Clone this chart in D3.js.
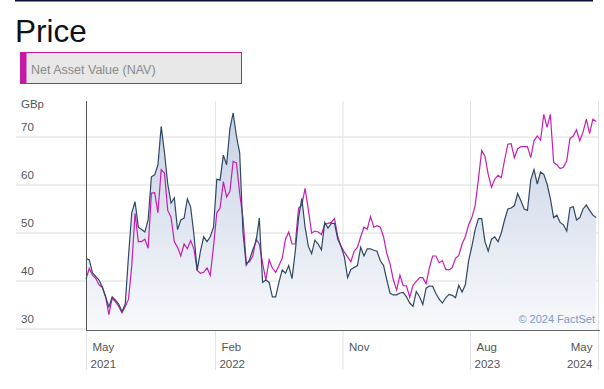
<!DOCTYPE html>
<html><head><meta charset="utf-8">
<script src="https://cdn.jsdelivr.net/npm/d3@7"></script>
<style>
html,body{margin:0;padding:0;background:#fff;}
svg{display:block;font-family:"Liberation Sans",Arial,Helvetica,sans-serif;}
</style></head>
<body><svg id="chart" width="604" height="389"></svg>
<script>
// ---- data (weekly, starting 2021-05-01) ----
const startDate = "2021-05-01";
const priceValues = [44.5,44.2,41.5,40.7,40.0,38.5,36.5,34.4,36.5,35.8,35.0,33.4,35.0,45.0,54.0,56.3,51.0,50.5,50.0,52.5,
61.5,61.9,64.0,72.0,66.5,60.0,56.0,57.1,50.5,52.5,52.9,56.9,55.2,49.5,42.0,46.0,49.0,48.0,49.0,51.0,
61.0,60.8,66.0,64.0,71.5,74.8,70.0,66.5,50.0,43.1,44.2,46.3,48.0,52.9,39.5,40.0,39.5,36.5,36.5,39.5,
42.1,41.4,43.0,40.3,46.0,53.0,57.0,51.0,47.0,45.5,48.3,47.5,46.3,52.0,50.8,51.8,51.8,48.5,47.0,44.8,
40.5,42.2,42.6,43.0,46.8,45.0,46.5,46.5,46.2,46.0,44.0,43.0,40.0,37.2,36.9,36.9,37.3,37.4,36.5,35.2,
34.5,37.6,36.5,34.9,38.3,38.75,38.7,37.2,36.0,35.2,36.3,37.0,36.8,36.3,38.9,37.5,39.0,44.0,47.0,50.5,
52.8,52.8,48.0,46.0,48.5,49.0,48.0,49.8,52.5,54.8,55.0,55.5,58.0,56.5,54.8,54.5,60.8,63.0,60.0,62.5,
62.0,60.0,57.0,53.0,53.5,52.0,51.5,50.2,55.0,55.3,52.5,53.0,54.8,55.6,54.5,53.5,53.0];
const navValues = [40.2,42.4,41.0,40.3,39.0,38.5,36.5,32.8,36.2,35.5,34.5,33.2,34.5,36.0,43.0,53.9,48.0,48.0,48.5,46.6,
58.1,58.2,54.0,63.0,62.3,54.5,53.1,48.0,46.8,45.0,47.5,46.5,48.2,46.5,42.0,41.4,41.6,42.5,41.0,47.0,
54.0,55.0,60.5,57.3,58.5,64.7,64.4,58.0,53.0,43.5,43.8,45.0,48.5,47.5,43.5,40.0,44.2,42.5,41.6,43.0,
44.5,48.5,50.0,47.5,47.5,55.0,55.6,59.1,54.6,49.8,50.2,50.0,49.5,51.6,51.8,52.0,52.8,49.0,47.0,45.8,
44.8,43.8,46.0,46.8,49.0,51.0,50.6,53.2,51.0,51.3,51.0,49.0,45.5,43.3,40.0,37.9,41.0,38.8,38.8,36.4,
38.9,39.7,40.5,40.5,39.2,42.5,45.0,45.0,43.6,44.0,42.2,42.1,42.6,44.5,45.1,47.5,49.0,51.5,53.0,55.5,
61.0,67.0,65.8,62.0,59.3,61.0,61.8,61.3,65.0,68.3,68.4,65.5,67.3,67.8,67.8,67.8,65.5,69.0,70.0,69.1,
74.5,71.8,74.5,64.5,64.0,63.2,63.5,64.8,69.5,70.0,71.3,69.0,70.8,73.5,70.5,73.5,73.0];
const yTicks = [30,40,50,60,70];
const xTickDates = ["2021-05-01","2022-02-01","2022-11-01","2023-08-01","2024-05-01"];
const xTickMonths = ["May","Feb","Nov","Aug","May"];
const xTickYears = ["2021","2022","","2023","2024"];
const titleText = "Price";
const legendText = "Net Asset Value (NAV)";
const unitText = "GBp";
const creditText = "\u00A9 2024 FactSet";

// ---- build ----
const parse = d3.utcParse("%Y-%m-%d");
const t0 = parse(startDate);
const dates = priceValues.map((_, i) => d3.utcDay.offset(t0, i * 7));
const price = priceValues.map((v, i) => ({d: dates[i], v}));
const nav = navValues.map((v, i) => ({d: dates[i], v}));

const svg = d3.select("#chart");
const L = 86, R = 598, T = 101, B = 330;

const x = d3.scaleUtc().domain([parse(xTickDates[0]), parse(xTickDates[4])]).range([L, R]);
const y = d3.scaleLinear().domain([30, 70]).range([328, 136]);

// top rule
svg.append("rect").attr("x", 15).attr("y", 0).attr("width", 578).attr("height", 1.5).attr("fill", "#0b0f3a");

// title
svg.append("text").attr("x", 15).attr("y", 42).attr("font-size", 31.5).attr("fill", "#111").text(titleText);

// legend
svg.append("rect").attr("x", 20.5).attr("y", 52.5).attr("width", 221).attr("height", 31)
  .attr("fill", "#e8e8e8").attr("stroke", "#c419a8").attr("stroke-width", 1);
svg.append("rect").attr("x", 20).attr("y", 52).attr("width", 6.5).attr("height", 32).attr("fill", "#c419a8");
svg.append("text").attr("x", 31).attr("y", 74).attr("font-size", 12.5).attr("fill", "#8a8a8a").text(legendText);

// gradient
const defs = svg.append("defs");
const grad = defs.append("linearGradient").attr("id", "areaGrad")
  .attr("gradientUnits", "userSpaceOnUse").attr("x1", 0).attr("x2", 0).attr("y1", T).attr("y2", B);
grad.append("stop").attr("offset", "0%").attr("stop-color", "#c4d0e3");
grad.append("stop").attr("offset", "100%").attr("stop-color", "#f8f9fc");

// horizontal grid + y labels
const yAxis = d3.axisLeft(y).tickValues(yTicks).tickSize(-(R - 16)).tickFormat(d3.format("d"));
const gy = svg.append("g").attr("transform", `translate(16,0)`).call(yAxis);
gy.select(".domain").remove();
gy.selectAll(".tick line").attr("stroke", "#dcdcdc").attr("transform", "translate(0,0.5)");
gy.selectAll(".tick text").attr("x", 5).attr("dy", "-0.45em").attr("text-anchor", "start")
  .attr("font-size", 11.5).attr("fill", "#555").attr("font-family", "Liberation Sans, Arial, sans-serif");
svg.append("text").attr("x", 21).attr("y", 108).attr("font-size", 11.5).attr("fill", "#555").text(unitText);

// vertical grid + x labels
const xAxis = d3.axisBottom(x).tickValues(xTickDates.map(parse)).tickSize(0).tickFormat(() => "");
const gx = svg.append("g").attr("transform", `translate(0,${B})`).call(xAxis);
gx.select(".domain").remove();
gx.selectAll(".tick").append("line").attr("y1", T - B).attr("y2", 40).attr("stroke", "#e2e2e2");
gx.selectAll(".tick").each(function(d, i) {
  const g = d3.select(this);
  const last = i === xTickDates.length - 1;
  g.append("text").attr("x", last ? -6 : 6).attr("y", 21).attr("text-anchor", last ? "end" : "start")
    .attr("font-size", 11.5).attr("fill", "#555").attr("font-family", "Liberation Sans, Arial, sans-serif")
    .text(xTickMonths[i]);
  g.append("text").attr("x", last ? -6 : 4).attr("y", 38).attr("text-anchor", last ? "end" : "start")
    .attr("font-size", 11.5).attr("fill", "#555").attr("font-family", "Liberation Sans, Arial, sans-serif")
    .text(xTickYears[i]);
});

// area
const area = d3.area().x(d => x(d.d)).y0(B).y1(d => y(d.v));
svg.append("path").datum(price).attr("d", area).attr("fill", "url(#areaGrad)");

// lines
const line = d3.line().x(d => x(d.d)).y(d => y(d.v));
svg.append("path").datum(nav).attr("d", line).attr("fill", "none").attr("stroke", "#c61fb0").attr("stroke-width", 1.2);
svg.append("path").datum(price).attr("d", line).attr("fill", "none").attr("stroke", "#2f4866").attr("stroke-width", 1.2);

// axis lines
svg.append("line").attr("x1", L + 0.5).attr("x2", L + 0.5).attr("y1", T).attr("y2", B).attr("stroke", "#555");
svg.append("line").attr("x1", L).attr("x2", 600).attr("y1", B + 0.5).attr("y2", B + 0.5).attr("stroke", "#666");

// credit
svg.append("text").attr("x", 595).attr("y", 323).attr("text-anchor", "end").attr("font-size", 11)
  .attr("fill", "#7b9cc8").text(creditText);
</script></body></html>
